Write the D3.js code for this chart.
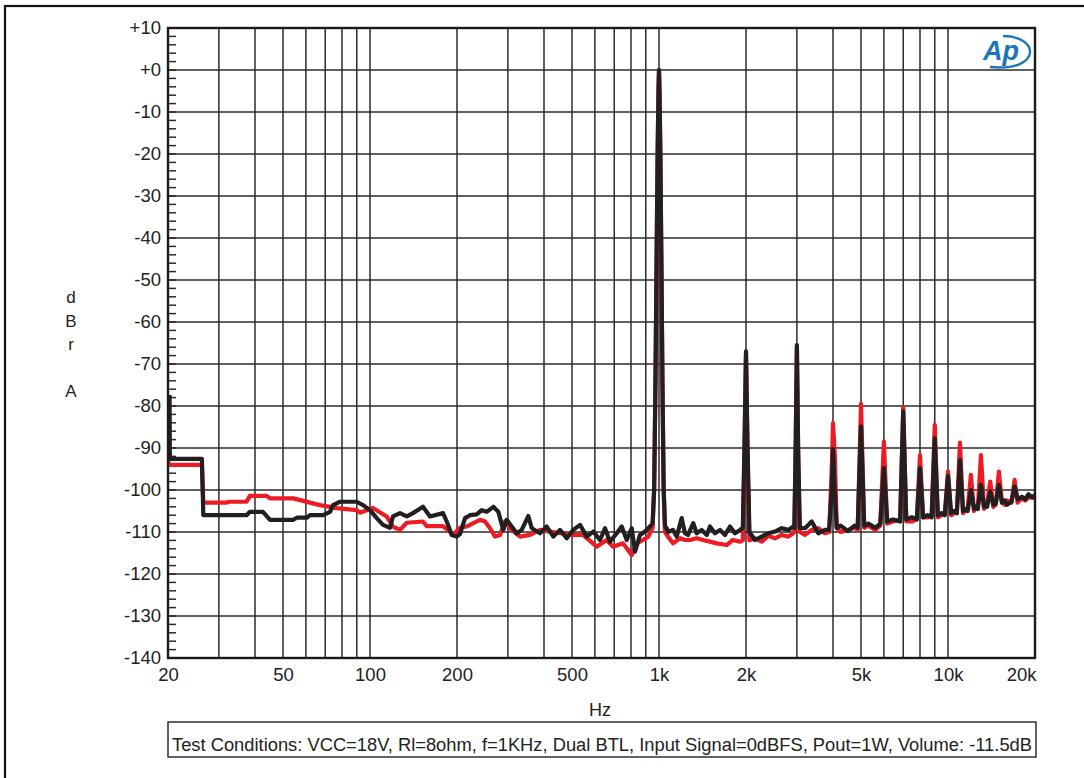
<!DOCTYPE html>
<html>
<head>
<meta charset="utf-8">
<script src="https://cdn.jsdelivr.net/npm/d3@7"></script>
<style>
  body { margin: 0; background: #fff; }
  svg { display: block; font-family: "Liberation Sans", Arial, sans-serif; }
</style>
</head>
<body>
<div id="chart"></div>
<script>
// tick labels
var yTicks = [10, 0, -10, -20, -30, -40, -50, -60, -70, -80, -90, -100, -110, -120, -130, -140];
var xTickHz = [20, 50, 100, 200, 500, 1000, 2000, 5000, 10000, 20000];
var xTickLabels = ["20", "50", "100", "200", "500", "1k", "2k", "5k", "10k", "20k"];

// black trace (Hz / dBrA)
var blackHz = [20.25, 20.3, 26.2, 26.5, 37.4, 38.4, 42.6, 45.1, 54.3, 55.8, 60.4, 62, 68.8, 72.7, 74.5, 78.7, 89.9, 94.6, 100,
  105.5, 110.9, 117.3, 120.1, 127, 134, 140.8, 152.5, 161.3, 178.9, 184.3, 191.8, 199.5, 204.8,
  213.2, 221.8, 234, 243.5, 253.4, 267.2, 278, 289.2, 297.2, 309.2, 321.8, 335, 353, 362.8, 387.6, 408.8, 430.8,
  454.4, 479.4, 505.2, 533, 562.2, 592.4, 625, 650.4, 676.8, 714, 743, 773.2, 804.6, 826, 859.6, 894.6, 918.4,
  950, 962, 972, 981, 989, 996, 1000, 1004, 1011, 1019, 1028, 1038, 1049, 1063, 1074, 1118, 1151, 1198, 1230, 1260,
  1314, 1350, 1405, 1463, 1501, 1562, 1626, 1692, 1761, 1832, 1907,
  1950, 1975, 2000, 2025, 2055, 2148, 2267, 2389, 2520, 2658, 2802, 2915,
  2940, 2970, 3000, 3030, 3070, 3201, 3376, 3558, 3753,
  3880, 3960, 4000, 4040, 4120, 4250, 4500, 4750,
  4870, 5000, 5130, 5300, 5600, 5830, 6000, 6160, 6450, 6830, 7000, 7170, 7500, 7800, 8000, 8200, 8500, 8780,
  9000, 9220, 9500, 9750, 10000, 10250, 10500, 10730, 11000, 11270, 11500, 11700, 12000, 12300, 12500, 12680,
  13000, 13320, 13500, 13650, 14000, 14350, 14630, 15000, 15370, 15700, 16000, 16580, 17000, 17420,
  18000, 18500, 19000, 19500, 20000];
var blackDb = [-77.4, -92.6, -92.6, -106, -106, -105.2, -105.2, -107.1, -107.1, -106.6, -106.6, -106, -106, -105.2, -103.6, -102.8, -102.8, -103.6, -104.8,
  -106.7, -108.3, -109, -106.3, -105.5, -106.3, -105.5, -104, -106.3, -105.5, -107.5, -110.7, -111.1, -110.5,
  -106.7, -106, -105.8, -104.8, -105.2, -104, -105.2, -109.5, -107.1, -108.7, -110.3, -109.5, -106.2, -109.1, -110.3, -108.7, -111.1,
  -109.5, -111.5, -109.5, -108.3, -111.1, -109.9, -111.9, -109.1, -112.3, -110.3, -108.7, -111.9, -109.1, -114.7, -110.7, -109.9, -109.1,
  -108, -100, -75, -45, -20, -5, 0, -5, -20, -45, -75, -100, -108.7, -109.1, -110, -109.5, -111.1, -106.7, -110.3, -110.7,
  -107.9, -110.3, -109.5, -110.7, -108.7, -110.3, -109.5, -110.7, -108.7, -110.3, -109.5,
  -109, -90, -67, -90, -110, -111.9, -111.1, -110.3, -109.9, -109.1, -109.5, -108.7,
  -109, -90, -65.5, -90, -109, -109.1, -107.5, -110.3, -109.5,
  -109.5, -100, -90.2, -98, -109, -108.5, -109.8, -108.5,
  -109, -84.9, -108.5, -108, -109, -108, -94.8, -107.5, -107, -107.5, -81.3, -107, -106.5, -107, -94.8, -106.5, -106, -106.5,
  -87.7, -106, -105.5, -106, -96.7, -105.5, -105, -105.5, -92.9, -105, -104.5, -105, -100, -104.5, -104, -104.5,
  -98.8, -104, -103.5, -104, -100.4, -103.5, -103.2, -98.8, -103, -102.5, -103.5, -102.8, -99.2, -102.2,
  -101.6, -102.2, -101, -101.8, -101.2];

// red trace (Hz / dBrA)
var redHz = [20, 20.3, 26.2, 26.5, 31.9, 32.5, 37.4, 38.4, 43.9, 45.1, 54.3, 67.1, 76.7, 89.9, 92.3, 102.4, 114.2, 120.1,
  127, 134, 152.5, 157.1, 178.9, 189.2, 193.8, 204.8,
  216, 227.8, 240.2, 250, 260.2, 270.8, 281.8, 293.2, 309.2, 330.4, 357.8, 387.6, 419.6, 454.4, 505.2, 545.8,
  608.8, 659.2, 693.2, 750.6, 804.6, 837.4, 880.4, 918.4,
  950, 962, 972, 981, 989, 996, 1000, 1004, 1011, 1019, 1028, 1038, 1049, 1074, 1118, 1182, 1230, 1280, 1350, 1420,
  1501, 1584, 1715, 1800, 1907,
  1950, 1975, 2000, 2025, 2055, 2148, 2267, 2389, 2520, 2658, 2802, 2915,
  2940, 2970, 3000, 3030, 3070, 3201, 3376, 3558, 3753,
  3880, 3960, 4000, 4060, 4120, 4250, 4500, 4750,
  4870, 5000, 5130, 5300, 5600, 5830, 6000, 6160, 6450, 6830, 7000, 7170, 7500, 7800, 8000, 8200, 8500, 8780,
  9000, 9220, 9500, 9750, 10000, 10250, 10500, 10730, 11000, 11270, 11500, 11700, 12000, 12300, 12500, 12680,
  13000, 13320, 13500, 13650, 14000, 14350, 14630, 15000, 15370, 15700, 16000, 16580, 17000, 17420,
  18000, 18500, 19000, 19500, 20000];
var redDb = [-93.3, -94, -94, -103, -103, -102.8, -102.8, -101.4, -101.4, -102, -102, -103.6, -104.3, -104.8, -105.4, -104.3, -106.3, -108.7,
  -109.5, -107.8, -107.5, -108.6, -108.6, -110, -110.7, -109,
  -108.7, -107.9, -107.1, -107.5, -109.1, -111.1, -110.7, -107.5, -109.5, -111.1, -110.7, -109.5, -109.9, -110.3, -110.7, -110.7,
  -113.5, -111.9, -113.5, -112.7, -115.5, -112.7, -111.9, -111.1,
  -109, -100, -75, -45, -20, -5, 0, -5, -20, -45, -75, -100, -110, -111.1, -112.7, -111.5, -111.9, -111.9, -111.5, -111.9,
  -112.3, -112.7, -113.1, -111.9, -112.3,
  -112, -92, -67.5, -92, -112, -111.5, -112.3, -110.9, -111.5, -110.7, -111.1, -110.3,
  -110, -92, -66, -92, -110, -110.7, -109.5, -109.1, -110.3,
  -110, -95, -84.1, -92, -109, -110, -109.5, -109,
  -109.5, -79.5, -109, -108.5, -109.5, -108.5, -88.5, -108, -107.5, -107, -80.3, -107.5, -107.5, -107, -91.7, -106.5, -106.5, -106,
  -84.5, -106.5, -106, -105.5, -95.6, -106, -105.5, -105.5, -88.7, -105.5, -105, -104.5, -96.4, -105, -104, -104.5,
  -91.7, -104.5, -104, -103.5, -98, -104, -103.5, -95.6, -103, -103.5, -102.5, -103, -97.6, -103,
  -102, -102.5, -101.8, -101.5, -102];

var width = 1084, height = 778;
var margin = {top: 28, right: 49, bottom: 120, left: 168};
var plotW = width - margin.left - margin.right,
  plotH = height - margin.top - margin.bottom;

var svg = d3.select("#chart").append("svg").attr("width", width).attr("height", height);

// outer frame
svg.append("rect").attr("x", 5).attr("y", 6).attr("width", 1200).attr("height", 900)
  .attr("fill", "none").attr("stroke", "#111").attr("stroke-width", 2.2);

var g = svg.append("g").attr("transform", "translate(" + margin.left + "," + margin.top + ")");

var x = d3.scaleLog().domain([20, 20000]).range([0, plotW]);
var y = d3.scaleLinear().domain([-140, 10]).range([plotH, 0]);

// grid
g.append("g").selectAll("line").data(x.ticks()).enter().append("line")
  .attr("x1", function (d) { return x(d); }).attr("x2", function (d) { return x(d); })
  .attr("y1", 0).attr("y2", plotH)
  .attr("stroke", "#2b2b2b").attr("stroke-width", 1.5);
g.append("g").selectAll("line").data(yTicks).enter().append("line")
  .attr("x1", 0).attr("x2", plotW)
  .attr("y1", function (d) { return y(d); }).attr("y2", function (d) { return y(d); })
  .attr("stroke", "#2b2b2b").attr("stroke-width", 1.5);

// minor ticks on left axis (every 2 dB)
g.append("g").selectAll("line").data(d3.range(-140, 10.1, 2)).enter().append("line")
  .attr("x1", 0).attr("x2", 8)
  .attr("y1", function (d) { return y(d); }).attr("y2", function (d) { return y(d); })
  .attr("stroke", "#2b2b2b").attr("stroke-width", 1.5);

// traces
g.append("clipPath").attr("id", "clip").append("rect").attr("width", plotW).attr("height", plotH);
var line = d3.line()
  .x(function (d) { return x(d[0]); })
  .y(function (d) { return y(d[1]); });

g.append("path").datum(d3.zip(redHz, redDb))
  .attr("clip-path", "url(#clip)")
  .attr("d", line).attr("fill", "none")
  .attr("stroke", "#ed1c24").attr("stroke-width", 4.2).attr("stroke-linejoin", "round");
g.append("path").datum(d3.zip(blackHz, blackDb))
  .attr("clip-path", "url(#clip)")
  .attr("d", line).attr("fill", "none")
  .attr("stroke", "#231f20").attr("stroke-width", 4.2).attr("stroke-linejoin", "round");

// plot border
g.append("rect").attr("width", plotW).attr("height", plotH)
  .attr("fill", "none").attr("stroke", "#1a1a1a").attr("stroke-width", 2.4);

// axes labels
var yAxis = g.append("g")
  .call(d3.axisLeft(y).tickValues(yTicks).tickSize(0).tickPadding(7)
    .tickFormat(function (d) { return d > 0 ? "+" + d : d === 0 ? "+0" : "" + d; }));
yAxis.select(".domain").remove();
yAxis.selectAll("text").attr("font-size", 18.5).attr("fill", "#222")
  .attr("font-family", "'Liberation Sans', Arial, sans-serif");

var xAxis = g.append("g").attr("transform", "translate(0," + plotH + ")")
  .call(d3.axisBottom(x).tickValues(xTickHz).tickSize(0).tickPadding(10)
    .tickFormat(function (d, i) { return xTickLabels[i]; }));
xAxis.select(".domain").remove();
xAxis.selectAll("text").attr("font-size", 18.5).attr("fill", "#222")
  .attr("font-family", "'Liberation Sans', Arial, sans-serif");
xAxis.selectAll("text").filter(function (d) { return d === 20000; })
  .attr("text-anchor", "end").attr("dx", 1);

// axis titles
svg.append("text").attr("x", 600).attr("y", 716).attr("text-anchor", "middle")
  .attr("font-size", 18).attr("fill", "#222").text("Hz");
var yTitle = ["d", "B", "r", "", "A"];
svg.append("g").selectAll("text").data(yTitle).enter().append("text")
  .attr("x", 71).attr("y", function (d, i) { return 303 + i * 23.5; })
  .attr("text-anchor", "middle").attr("font-size", 17).attr("fill", "#222")
  .text(function (d) { return d; });

// test conditions box
svg.append("rect").attr("x", 168).attr("y", 722).attr("width", 868).attr("height", 35)
  .attr("fill", "none").attr("stroke", "#222").attr("stroke-width", 1.4);
svg.append("text").attr("x", 172).attr("y", 751).attr("font-size", 18).attr("fill", "#222")
  .attr("textLength", 860).attr("lengthAdjust", "spacingAndGlyphs")
  .text("Test Conditions: VCC=18V, Rl=8ohm, f=1KHz, Dual BTL, Input Signal=0dBFS, Pout=1W, Volume: -11.5dB");

// Ap logo
svg.append("path").attr("d", "M1003,36 C1040,36 1042,72 990,67")
  .attr("fill", "none").attr("stroke", "#1b75bb").attr("stroke-width", 2.4);
svg.append("text").attr("x", 983).attr("y", 60).attr("font-size", 27).attr("font-style", "italic")
  .attr("font-weight", "bold").attr("fill", "#1b75bb").text("Ap");
</script>
</body>
</html>
